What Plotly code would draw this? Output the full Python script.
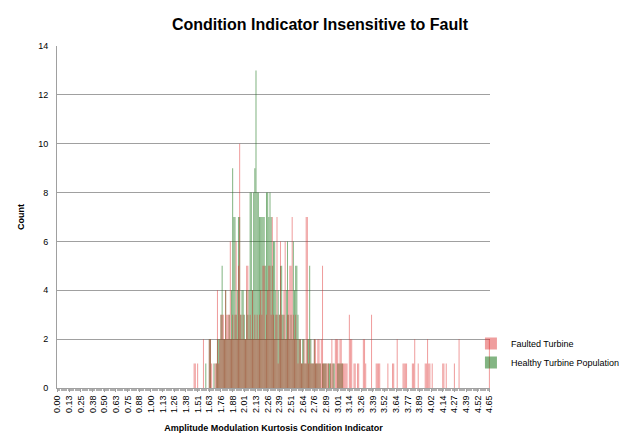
import plotly.graph_objects as go

# Bin index 0..370, bin width ~0.01257; tick label every 10 bins
n_bins = 371
tick_labels = ["0.00", "0.13", "0.25", "0.38", "0.50", "0.63", "0.75", "0.88", "1.00",
               "1.13", "1.26", "1.38", "1.51", "1.63", "1.76", "1.88", "2.01", "2.13",
               "2.26", "2.39", "2.51", "2.64", "2.76", "2.89", "3.01", "3.14", "3.26",
               "3.39", "3.52", "3.64", "3.77", "3.89", "4.02", "4.14", "4.27", "4.39",
               "4.52", "4.65"]

# Faulted turbine counts, bins 115..370
faulted_start = 115
faulted_counts = [
    0, 0, 1, 1, 0, 1, 0, 0, 0, 0,            # 115-124
    2, 0, 0, 0, 0, 2, 2, 1, 0, 0,            # 125-134
    1, 1, 4, 1, 2, 3, 3, 3, 2, 4,            # 135-144
    3, 3, 3, 6, 2, 3, 2, 3, 6, 2,            # 145-154
    5, 10, 3, 2, 3, 2, 2, 5, 5, 2,           # 155-164
    3, 2, 4, 2, 3, 2, 3, 2, 3, 4,            # 165-174
    3, 5, 5, 2, 3, 4, 5, 5, 3, 7,            # 175-184
    3, 2, 3, 7, 1, 3, 6, 3, 2, 4,            # 185-194
    6, 2, 3, 4, 5, 5, 7, 3, 2, 3,            # 195-204
    2, 1, 2, 2, 1, 1, 2, 1, 7, 7,            # 205-214
    1, 2, 1, 1, 1, 2, 2, 1, 2, 2,            # 215-224
    1, 2, 5, 1, 1, 1, 1, 1, 0, 1,            # 225-234
    2, 1, 0, 2, 2, 2, 1, 2, 2, 1,            # 235-244
    1, 1, 1, 1, 0, 3, 2, 2, 0, 1,            # 245-254
    1, 0, 1, 1, 0, 0, 0, 2, 2, 1,            # 255-264
    0, 0, 0, 0, 3, 0, 0, 0, 1, 1,            # 265-274
    1, 1, 0, 0, 0, 0, 0, 0, 1, 0,            # 275-284
    0, 0, 1, 1, 0, 0, 2, 0, 0, 0,            # 285-294
    0, 1, 1, 1, 1, 0, 0, 0, 0, 1,            # 295-304
    1, 2, 0, 0, 1, 0, 0, 0, 0, 0,            # 305-314
    1, 1, 2, 1, 1, 0, 1, 0, 0, 0,            # 315-324
    0, 0, 0, 0, 0, 1, 1, 0, 1, 0,            # 325-334
    0, 0, 0, 0, 0, 1, 0, 0, 0, 2,            # 335-344
    0, 0, 0, 0, 0, 0, 0, 0, 0, 0,            # 345-354
    0, 0, 0, 0, 0, 0, 0, 0, 0, 0,            # 355-364
    0, 0, 0, 0, 0, 2,                        # 365-370
]

# Healthy turbine population counts, bins 125..245
healthy_start = 125
healthy_counts = [
    0, 0, 1, 0, 0, 2, 2, 0, 0, 1,            # 125-134
    0, 1, 2, 2, 2, 3, 5, 2, 2, 4,            # 135-144
    2, 2, 3, 2, 4, 9, 7, 7, 3, 4,            # 145-154
    7, 7, 3, 4, 4, 3, 2, 4, 3, 4,            # 155-164
    8, 8, 4, 8, 9, 13, 8, 8, 7, 7,           # 165-174
    7, 7, 7, 5, 8, 8, 7, 8, 7, 5,            # 175-184
    6, 6, 4, 3, 4, 3, 5, 5, 3, 3,            # 185-194
    2, 4, 6, 3, 2, 3, 2, 6, 4, 5,            # 195-204
    5, 3, 2, 2, 1, 2, 2, 1, 1, 2,            # 205-214
    2, 5, 2, 1, 1, 2, 1, 1, 1, 1,            # 215-224
    1, 0, 1, 1, 1, 1, 0, 1, 1, 1,            # 225-234
    0, 1, 1, 0, 0, 1, 1, 1, 1, 1,            # 235-244
    0,                                       # 245
]

faulted_x = list(range(faulted_start, faulted_start + len(faulted_counts)))
healthy_x = list(range(healthy_start, healthy_start + len(healthy_counts)))

fig = go.Figure()
fig.add_trace(go.Bar(x=healthy_x, y=healthy_counts, name="Healthy Turbine Population",
                     legendrank=2,
                     marker=dict(color="rgba(30,120,30,0.55)", line=dict(width=0))))
fig.add_trace(go.Bar(x=faulted_x, y=faulted_counts, name="Faulted Turbine",
                     legendrank=1,
                     marker=dict(color="rgba(220,40,40,0.45)", line=dict(width=0))))

# The page body has an 8px margin, so the figure is sized/positioned to compensate.
fig.update_layout(
    width=619, height=433,
    paper_bgcolor="white", plot_bgcolor="white",
    barmode="overlay", bargap=0.12,
    margin=dict(l=49, r=137, t=38, b=53, autoexpand=False),
    font=dict(family="Liberation Sans, Arial, sans-serif", color="black"),
    title=dict(text="<b>Condition Indicator Insensitive to Fault</b>",
               x=0.504, xanchor="center", y=0.963, yanchor="middle",
               font=dict(size=16, color="black")),
    legend=dict(x=0.956, xanchor="left", y=0.1725, yanchor="top",
                font=dict(size=9), bgcolor="rgba(0,0,0,0)",
                itemwidth=30, tracegroupgap=0),
    showlegend=True,
)
fig.update_xaxes(
    range=[-0.5, n_bins - 0.5],
    tickmode="array",
    tickvals=[i * 10 for i in range(len(tick_labels))],
    ticktext=tick_labels,
    tickangle=-90, tickfont=dict(size=9),
    showgrid=False, zeroline=False,
    showline=True, linecolor="#a0a0a0", linewidth=1,
    ticks="outside", ticklen=3, tickcolor="#a0a0a0",
    minor=dict(tickmode="linear", tick0=0, dtick=1, ticks="outside", ticklen=2, tickcolor="#b0b0b0"),
    title=dict(text="<b>Amplitude Modulation Kurtosis Condition Indicator</b>",
               font=dict(size=9), standoff=12),
)
fig.update_yaxes(
    range=[0, 14], dtick=2, tickfont=dict(size=9),
    showgrid=True, gridcolor="#a0a0a0", gridwidth=1,
    zeroline=False, showline=True, linecolor="#a0a0a0",
    ticks="", ticklabelstandoff=6,
    title=dict(text="<b>Count</b>", font=dict(size=9), standoff=12),
)

fig.write_html("out.html")
